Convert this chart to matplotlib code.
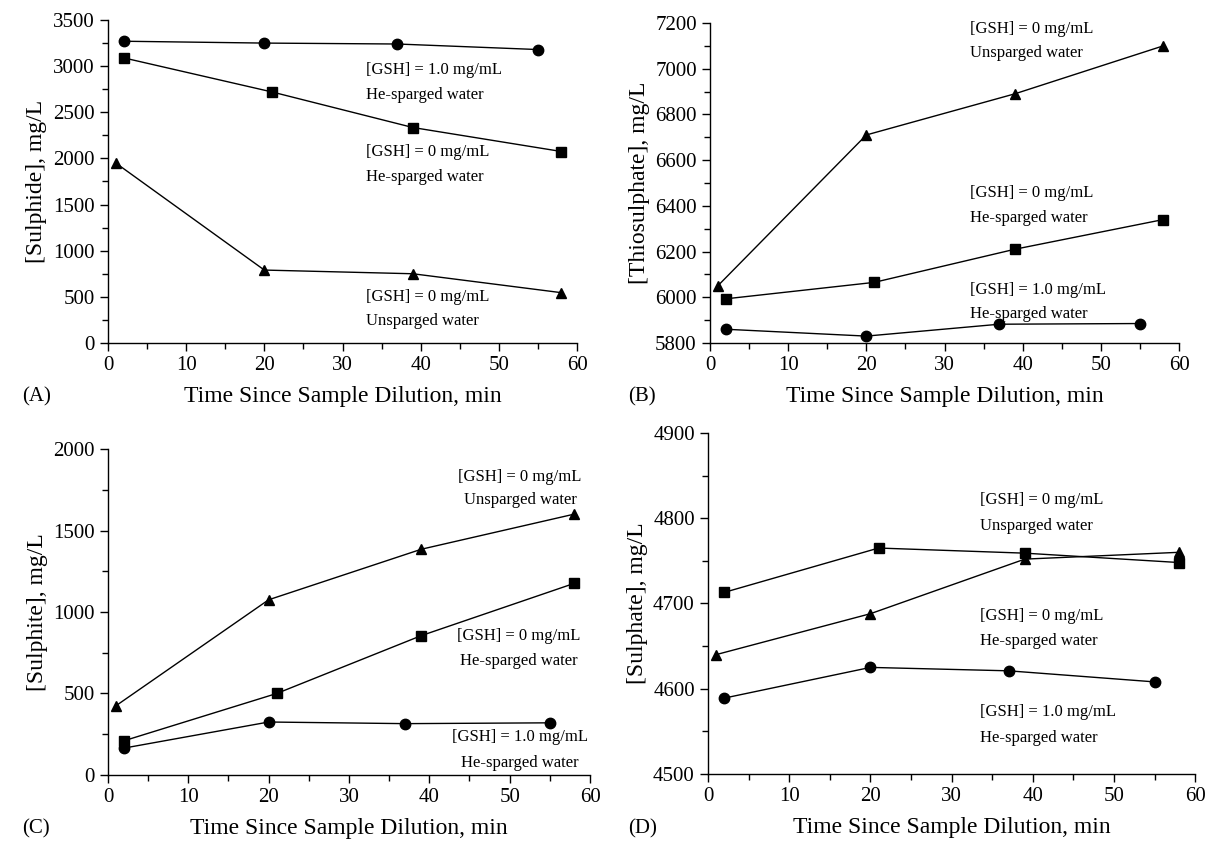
import matplotlib.pyplot as plt
from matplotlib.ticker import MultipleLocator

plt.rcParams['font.family'] = ['Liberation Serif', 'DejaVu Serif']

# ------------- DATA ------------- #
t_circle = [2, 20, 37, 55]
t_square = [2, 21, 39, 58]
t_triangle = [1, 20, 39, 58]

# (A) sulphide
sulphide_circle = [3270, 3250, 3240, 3180]
sulphide_square = [3090, 2720, 2335, 2075]
sulphide_triangle = [1950, 790, 750, 545]

# (B) thiosulphate
thio_circle = [5860, 5830, 5882, 5885]
thio_square = [5993, 6065, 6210, 6340]
thio_triangle = [6050, 6710, 6890, 7100]

# (C) sulphite
sulphite_circle = [165, 325, 315, 320]
sulphite_square = [210, 500, 855, 1175]
sulphite_triangle = [425, 1075, 1385, 1600]

# (D) sulphate
sulphate_circle = [4589, 4625, 4621, 4608]
sulphate_square = [4713, 4765, 4759, 4748]
sulphate_triangle = [4640, 4688, 4752, 4760]

lbl_gsh1 = '[GSH] = 1.0 mg/mL'
lbl_gsh0 = '[GSH] = 0 mg/mL'
lbl_he = 'He-sparged water'
lbl_un = 'Unsparged water'

xlabel = 'Time Since Sample Dilution, min'


def setup(ax, ylim, major, minor, ylabel):
    ax.set_xlim(0, 60)
    ax.set_ylim(*ylim)
    ax.xaxis.set_major_locator(MultipleLocator(10))
    ax.xaxis.set_minor_locator(MultipleLocator(5))
    ax.yaxis.set_major_locator(MultipleLocator(major))
    ax.yaxis.set_minor_locator(MultipleLocator(minor))
    for s in ['top', 'right']:
        ax.spines[s].set_visible(False)
    for s in ['left', 'bottom']:
        ax.spines[s].set_linewidth(1.0)
    ax.tick_params(which='major', direction='out', length=6, width=1, labelsize=15)
    ax.tick_params(which='minor', direction='out', length=4, width=1)
    ax.set_ylabel(ylabel, fontsize=17)
    ax.set_xlabel(xlabel, fontsize=17, labelpad=8)


def series(ax, c, s, t):
    ax.plot(t_circle, c, '-o', color='black', lw=1, ms=7.5, clip_on=False)
    ax.plot(t_square, s, '-s', color='black', lw=1, ms=7.5, clip_on=False)
    ax.plot(t_triangle, t, '-^', color='black', lw=1, ms=7.5, clip_on=False)


def note(ax, x, y1, y2, l1, l2, ha='left'):
    ax.text(x, y1, l1, fontsize=12, ha=ha, va='center')
    ax.text(x, y2, l2, fontsize=12, ha=ha, va='center')


fig = plt.figure(figsize=(12.12, 8.41), dpi=100)

axA = fig.add_axes([0.0891, 0.5922, 0.387, 0.384])
series(axA, sulphide_circle, sulphide_square, sulphide_triangle)
setup(axA, (0, 3500), 500, 250, '[Sulphide], mg/L')
note(axA, 33, 2960, 2690, lbl_gsh1, lbl_he)
note(axA, 33, 2070, 1800, lbl_gsh0, lbl_he)
note(axA, 33, 500, 240, lbl_gsh0, lbl_un)

axB = fig.add_axes([0.5858, 0.5922, 0.387, 0.3805])
series(axB, thio_circle, thio_square, thio_triangle)
setup(axB, (5800, 7200), 200, 100, '[Thiosulphate], mg/L')
note(axB, 33.3, 7174, 7069, lbl_gsh0, lbl_un)
note(axB, 33.3, 6456, 6347, lbl_gsh0, lbl_he)
note(axB, 33.3, 6032, 5927, lbl_gsh1, lbl_he)

axC = fig.add_axes([0.0891, 0.0785, 0.3977, 0.3876])
series(axC, sulphite_circle, sulphite_square, sulphite_triangle)
setup(axC, (0, 2000), 500, 250, '[Sulphite], mg/L')
note(axC, 51.3, 1828, 1687, lbl_gsh0, lbl_un, ha='center')
note(axC, 51.1, 853, 699, lbl_gsh0, lbl_he, ha='center')
note(axC, 51.3, 233, 74, lbl_gsh1, lbl_he, ha='center')

axD = fig.add_axes([0.5842, 0.0797, 0.402, 0.4055])
series(axD, sulphate_circle, sulphate_square, sulphate_triangle)
setup(axD, (4500, 4900), 100, 50, '[Sulphate], mg/L')
note(axD, 33.5, 4821, 4791, lbl_gsh0, lbl_un)
note(axD, 33.5, 4685, 4656, lbl_gsh0, lbl_he)
note(axD, 33.5, 4573, 4542, lbl_gsh1, lbl_he)

fig.text(0.018, 0.528, '(A)', fontsize=15, va='center')
fig.text(0.518, 0.528, '(B)', fontsize=15, va='center')
fig.text(0.018, 0.015, '(C)', fontsize=15, va='center')
fig.text(0.518, 0.015, '(D)', fontsize=15, va='center')

fig.savefig('out.png', dpi=100)
